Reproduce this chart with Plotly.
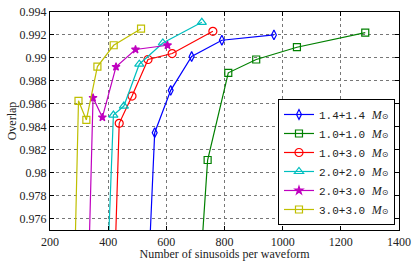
import plotly.graph_objects as go

# Data (first point of each series lies below the visible y-range)
names = ["1.4+1.4", "1.0+1.0", "1.0+3.0", "2.0+2.0", "2.0+3.0", "3.0+3.0"]
x_14_14 = [519, 560, 615, 687, 791, 970]
y_14_14 = [0.960, 0.98348, 0.98717, 0.99012, 0.99154, 0.99200]
x_10_10 = [686, 742, 813, 909, 1049, 1284]
y_10_10 = [0.960, 0.98110, 0.98870, 0.98986, 0.99093, 0.99221]
x_10_30 = [408, 438, 482, 537, 620, 760]
y_10_30 = [0.960, 0.98430, 0.98667, 0.98986, 0.99038, 0.99232]
x_20_20 = [380, 418, 454, 507, 588, 722]
y_20_20 = [0.960, 0.98502, 0.98580, 0.98945, 0.99130, 0.99310]
x_20_30 = [321, 348, 380, 427, 494, 604]
y_20_30 = [0.960, 0.98652, 0.98482, 0.98922, 0.99073, 0.99110]
x_30_30 = [274, 298, 325, 363, 419, 513]
y_30_30 = [0.960, 0.98626, 0.98459, 0.98924, 0.99110, 0.99255]

xs = [x_14_14, x_10_10, x_10_30, x_20_20, x_20_30, x_30_30]
ys = [y_14_14, y_10_10, y_10_30, y_20_20, y_20_30, y_30_30]
colors = ["#0000ff", "#008000", "#ff0000", "#00bfbf", "#bf00bf", "#bfbf00"]
symbols = ["diamond-tall-open", "square-open", "circle-open", "triangle-up-open", "star", "square-open"]
sizes = [7, 7, 8, 8, 6, 7]

x_ticks = [200, 400, 600, 800, 1000, 1200, 1400]
y_ticks = [0.976, 0.978, 0.98, 0.982, 0.984, 0.986, 0.988, 0.99, 0.992, 0.994]
y_tick_labels = ["0.976", "0.978", "0.98", "0.982", "0.984", "0.986", "0.988", "0.99", "0.992", "0.994"]

fig = go.Figure()
for n, x, y, c, s, sz in zip(names, xs, ys, colors, symbols, sizes):
    fig.add_trace(go.Scatter(
        x=x, y=y, mode="lines+markers",
        name=n + " <span style='font-family:Liberation Serif;font-style:italic;font-size:12px'>M</span>"
                 "<span style='font-family:DejaVu Sans;font-size:8px'>⊙</span>",
        line=dict(color=c, width=1.2),
        marker=dict(symbol=s, size=sz, color=c, line=dict(color=c, width=1.2)),
    ))

axis_common = dict(
    showline=True, linecolor="black", linewidth=1.2, mirror="ticks",
    ticks="inside", ticklen=4, tickcolor="black",
    showgrid=True, gridcolor="#777777", griddash="dot", gridwidth=1,
    zeroline=False, automargin=False,
    tickfont=dict(family="Liberation Serif", size=12, color="#222"),
)

fig.update_layout(
    width=415, height=261,
    margin=dict(l=50, r=16, t=12, b=31),
    paper_bgcolor="white", plot_bgcolor="white",
    font=dict(family="Liberation Serif", size=12, color="#222"),
    xaxis=dict(range=[200, 1400], tickvals=x_ticks,
               title=dict(text="Number of sinusoids per waveform", standoff=0,
                          font=dict(family="Liberation Serif", size=12)),
               **axis_common),
    yaxis=dict(range=[0.975, 0.994], tickvals=y_ticks, ticktext=y_tick_labels,
               title=dict(text="Overlap", standoff=0,
                          font=dict(family="Liberation Serif", size=12)),
               **axis_common),
    legend=dict(x=0.9885, xanchor="right", y=0.023, yanchor="bottom",
                bgcolor="white", bordercolor="black", borderwidth=1,
                font=dict(family="Liberation Mono", size=11, color="#222"),
                tracegroupgap=0, itemwidth=30),
    showlegend=True,
)

fig.write_html("out.html", config={"displayModeBar": False},
               post_script="document.body.style.margin='0';document.body.style.overflow='hidden';")
